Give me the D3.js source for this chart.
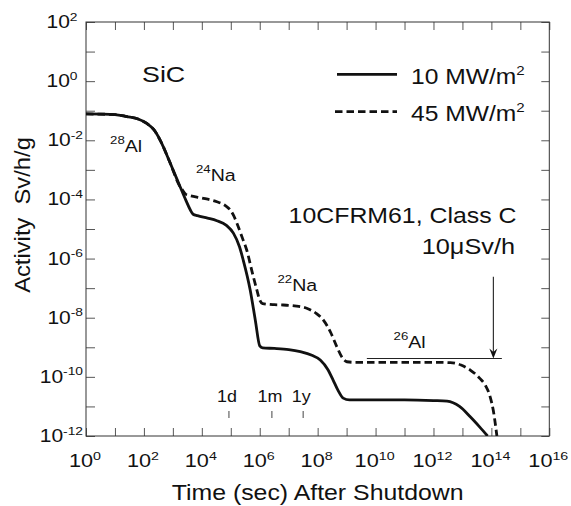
<!DOCTYPE html>
<html><head><meta charset="utf-8">
<script src="https://cdn.jsdelivr.net/npm/d3@7"></script>
<style>
body{margin:0;background:#fff}
svg{display:block}
text{font-family:"Liberation Sans",Arial,Helvetica,sans-serif;fill:#111;white-space:pre}
</style>
</head><body><svg id="chart" width="571" height="506"></svg>
<script>
// ---------- data ----------
const xTickExponents = [0, 2, 4, 6, 8, 10, 12, 14, 16];
const yTickExponents = [2, 0, -2, -4, -6, -8, -10, -12];
const seriesNames = ["10 MW/m", "45 MW/m"];
const seriesDash = [null, "7.5,4"];

// 10 MW/m2 (solid)
const solidTime = [1, 10, 26, 63, 1.26e2, 2.24e2, 3.63e2, 7.94e2, 1.78e3, 2.82e3, 3.98e3, 5.01e3, 7.08e3,
  1.58e4, 3.31e4, 7.08e4, 1.23e5, 2.0e5, 2.69e5, 4.68e5, 7.08e5, 1.0e6, 1.26e6, 3.16e6, 1e7, 2.51e7,
  6.31e7, 1.23e8, 2.24e8, 3.39e8, 5.01e8, 7.59e8, 1.26e9, 1e10, 1e11, 1e12, 2.95e12, 7.94e12, 1.86e13,
  3.98e13, 7.41e13];
const solidActivity = [7.76e-2, 7.41e-2, 6.31e-2, 5.25e-2, 3.72e-2, 2.24e-2, 1.02e-2, 1.78e-3, 2.69e-4,
  9.33e-5, 4.47e-5, 3.16e-5, 2.82e-5, 2.34e-5, 1.91e-5, 1.32e-5, 7.24e-6, 2.51e-6, 8.91e-7, 8.71e-8,
  7.94e-9, 1.12e-9, 9.55e-10, 9.12e-10, 8.32e-10, 7.08e-10, 5.37e-10, 3.72e-10, 1.78e-10, 7.94e-11,
  3.55e-11, 1.91e-11, 1.66e-11, 1.66e-11, 1.66e-11, 1.58e-11, 1.51e-11, 1.0e-11, 4.47e-12, 2.0e-12,
  1.0e-12];

// 45 MW/m2 (dashed)
const dashedTime = [1, 10, 26, 63, 1.26e2, 2.24e2, 3.63e2, 7.94e2, 1.78e3, 2.04e3, 2.82e3, 3.89e3, 1e4,
  3.31e4, 6.31e4, 9.55e4, 1.26e5, 1.62e5, 2.51e5, 3.55e5, 5.62e5, 7.94e5, 1e6, 1.26e6, 3.16e6, 6.46e6,
  1.58e7, 4.17e7, 8.91e7, 1.58e8, 2.82e8, 4.57e8, 7.08e8, 1.02e9, 2.0e9, 5.01e9, 1e12, 3.8e12, 8.91e12,
  1.86e13, 3.98e13, 6.31e13, 8.91e13, 1.17e14, 1.55e14];
const dashedActivity = [7.76e-2, 7.41e-2, 6.31e-2, 5.25e-2, 3.72e-2, 2.24e-2, 1.02e-2, 1.78e-3, 2.69e-4,
  2.24e-4, 1.48e-4, 1.35e-4, 1.12e-4, 8.32e-5, 6.31e-5, 4.37e-5, 2.82e-5, 1.58e-5, 5.01e-6, 1.95e-6,
  3.16e-7, 8.71e-8, 3.98e-8, 3.02e-8, 2.75e-8, 2.69e-8, 2.51e-8, 2.09e-8, 1.41e-8, 8.32e-9, 3.16e-9,
  1.05e-9, 4.47e-10, 3.24e-10, 3.09e-10, 3.09e-10, 3.09e-10, 3.02e-10, 2.51e-10, 1.70e-10, 8.91e-11,
  5.01e-11, 2.24e-11, 7.08e-12, 1e-12];

// annotations
const isotopeLabels = [
  {mass: "28", el: "Al", t: 6.8, a: 4.1e-3},
  {mass: "24", el: "Na", t: 6.3e3, a: 4.3e-4},
  {mass: "22", el: "Na", t: 4.1e6, a: 8.2e-8},
  {mass: "26", el: "Al", t: 4.2e10, a: 9.2e-10}
];
const timeMarkLabels = ["1d", "1m", "1y"];
const timeMarkValues = [86400, 2.63e6, 3.156e7];
const limitValue = 4.2e-10;           // 10 µSv/h level
const limitStartTime = 5.0e9, limitEndTime = 2.3e14, limitArrowTime = 1.17e14, arrowTopValue = 2.45e-7;

// ---------- layout ----------
const svg = d3.select("#chart");
const L = 86, R = 549.3, T = 22, B = 436;
const x = d3.scaleLog().domain([1, 1e16]).range([L, R]);
const y = d3.scaleLog().domain([1e-12, 1e2]).range([B, T]);

function txt(px, py, parts, o) {
  const sx = o.sx || 1, rot = o.rot || 0;
  const t = svg.append("text")
    .attr("transform", `translate(${px},${py}) rotate(${rot}) scale(${sx},1)`)
    .attr("text-anchor", o.anchor || "start")
    .attr("font-size", o.size);
  let up = false;
  parts.forEach(([s, sup]) => {
    const ts = t.append("tspan").text(s);
    if (sup && !up) { ts.attr("font-size", o.supSize).attr("dy", -o.supDy); up = true; }
    else if (!sup && up) { ts.attr("dy", o.supDy); up = false; }
    else if (sup) ts.attr("font-size", o.supSize);
  });
  return t;
}

// decade ticks on all four sides (inward)
const decadesX = d3.range(0, 17).map(e => Math.pow(10, e));
const decadesY = d3.range(-12, 3).map(e => Math.pow(10, e));
const tickStyle = g => { g.select(".domain").remove(); g.selectAll("line").attr("stroke", "#444").attr("stroke-width", 0.9); g.selectAll("text").remove(); };
svg.append("g").attr("transform", `translate(0,${B})`)
  .call(d3.axisBottom(x).tickValues(decadesX).tickSizeInner(-8).tickSizeOuter(0).tickFormat("")).call(tickStyle);
svg.append("g").attr("transform", `translate(0,${T})`)
  .call(d3.axisTop(x).tickValues(decadesX).tickSizeInner(-8).tickSizeOuter(0).tickFormat("")).call(tickStyle);
svg.append("g").attr("transform", `translate(${L},0)`)
  .call(d3.axisLeft(y).tickValues(decadesY).tickSizeInner(-9).tickSizeOuter(0).tickFormat("")).call(tickStyle);
svg.append("g").attr("transform", `translate(${R},0)`)
  .call(d3.axisRight(y).tickValues(decadesY).tickSizeInner(-8).tickSizeOuter(0).tickFormat("")).call(tickStyle);

svg.append("rect").attr("x", L).attr("y", T).attr("width", R - L).attr("height", B - T)
  .attr("fill", "none").attr("stroke", "#333").attr("stroke-width", 1);

// tick labels
xTickExponents.forEach(e => {
  txt(x(Math.pow(10, e)) - 1, 467, [["10"], [String(e), true]], {size: 17.5, sx: 1.24, supSize: 11.5, supDy: 7.5, anchor: "middle"});
});
yTickExponents.forEach(e => {
  txt(e >= 0 ? 77.5 : 83, y(Math.pow(10, e)) + 6, [["10"], [String(e), true]], {size: 17.5, sx: 1.2, supSize: 11.5, supDy: 7.5, anchor: "end"});
});

// axis titles
txt((L + R) / 2 + 0, 500, [["Time (sec) After Shutdown"]], {size: 22, sx: 1.13, anchor: "middle"});
txt(30, 215, [["Activity  Sv/h/g"]], {size: 22, sx: 1.08, anchor: "middle", rot: -90});

// curves
svg.append("clipPath").attr("id", "plotclip").append("rect")
  .attr("x", L).attr("y", T).attr("width", R - L).attr("height", B - T);
const line = d3.line().x(d => x(d[0])).y(d => y(d[1])).curve(d3.curveMonotoneX);
const series = [d3.zip(solidTime, solidActivity), d3.zip(dashedTime, dashedActivity)];
series.forEach((s, i) => {
  svg.append("path").attr("d", line(s)).attr("fill", "none").attr("stroke", "#111")
    .attr("stroke-width", 2.8).attr("stroke-dasharray", seriesDash[i]).attr("clip-path", "url(#plotclip)");
});

// legend
const legendY = [74.3, 111.7];
seriesNames.forEach((n, i) => {
  svg.append("line").attr("x1", i ? 335 : 337).attr("x2", 397).attr("y1", legendY[i]).attr("y2", legendY[i])
    .attr("stroke", "#111").attr("stroke-width", 2.8).attr("stroke-dasharray", seriesDash[i]);
  txt(411, legendY[i] + 9.5, [[n], ["2", true]], {size: 22, sx: 1.12, supSize: 13.5, supDy: 9});
});

// SiC label
txt(142, 82, [["SiC"]], {size: 22, sx: 1.22});

// isotope labels
isotopeLabels.forEach(d => {
  txt(x(d.t), y(d.a), [[d.mass, true], [d.el]], {size: 17, sx: 1.15, supSize: 11.5, supDy: 8});
});

// 10CFR61 limit
txt(516.5, 223, [["10CFRM61, Class C"]], {size: 22, sx: 1.13, anchor: "end"});
txt(515, 254, [["10\u03bcSv/h"]], {size: 22, sx: 1.15, anchor: "end"});
svg.append("line").attr("x1", x(limitStartTime)).attr("x2", x(limitEndTime))
  .attr("y1", y(limitValue)).attr("y2", y(limitValue)).attr("stroke", "#222").attr("stroke-width", 1.1);
const ax = x(limitArrowTime), ay = y(limitValue);
svg.append("line").attr("x1", ax).attr("x2", ax).attr("y1", y(arrowTopValue)).attr("y2", ay - 4)
  .attr("stroke", "#222").attr("stroke-width", 1.1);
svg.append("path").attr("d", `M${ax},${ay} L${ax - 4},${ay - 10} L${ax},${ay - 6.5} L${ax + 4},${ay - 10} Z`).attr("fill", "#111");

// 1d / 1m / 1y markers
timeMarkValues.forEach((v, i) => {
  const px = x(v);
  svg.append("line").attr("x1", px).attr("x2", px).attr("y1", 411).attr("y2", 418).attr("stroke", "#444").attr("stroke-width", 1);
  txt(px - 2, 401.5, [[timeMarkLabels[i]]], {size: 16, sx: 1.12, anchor: "middle"});
});
</script>
</body></html>
